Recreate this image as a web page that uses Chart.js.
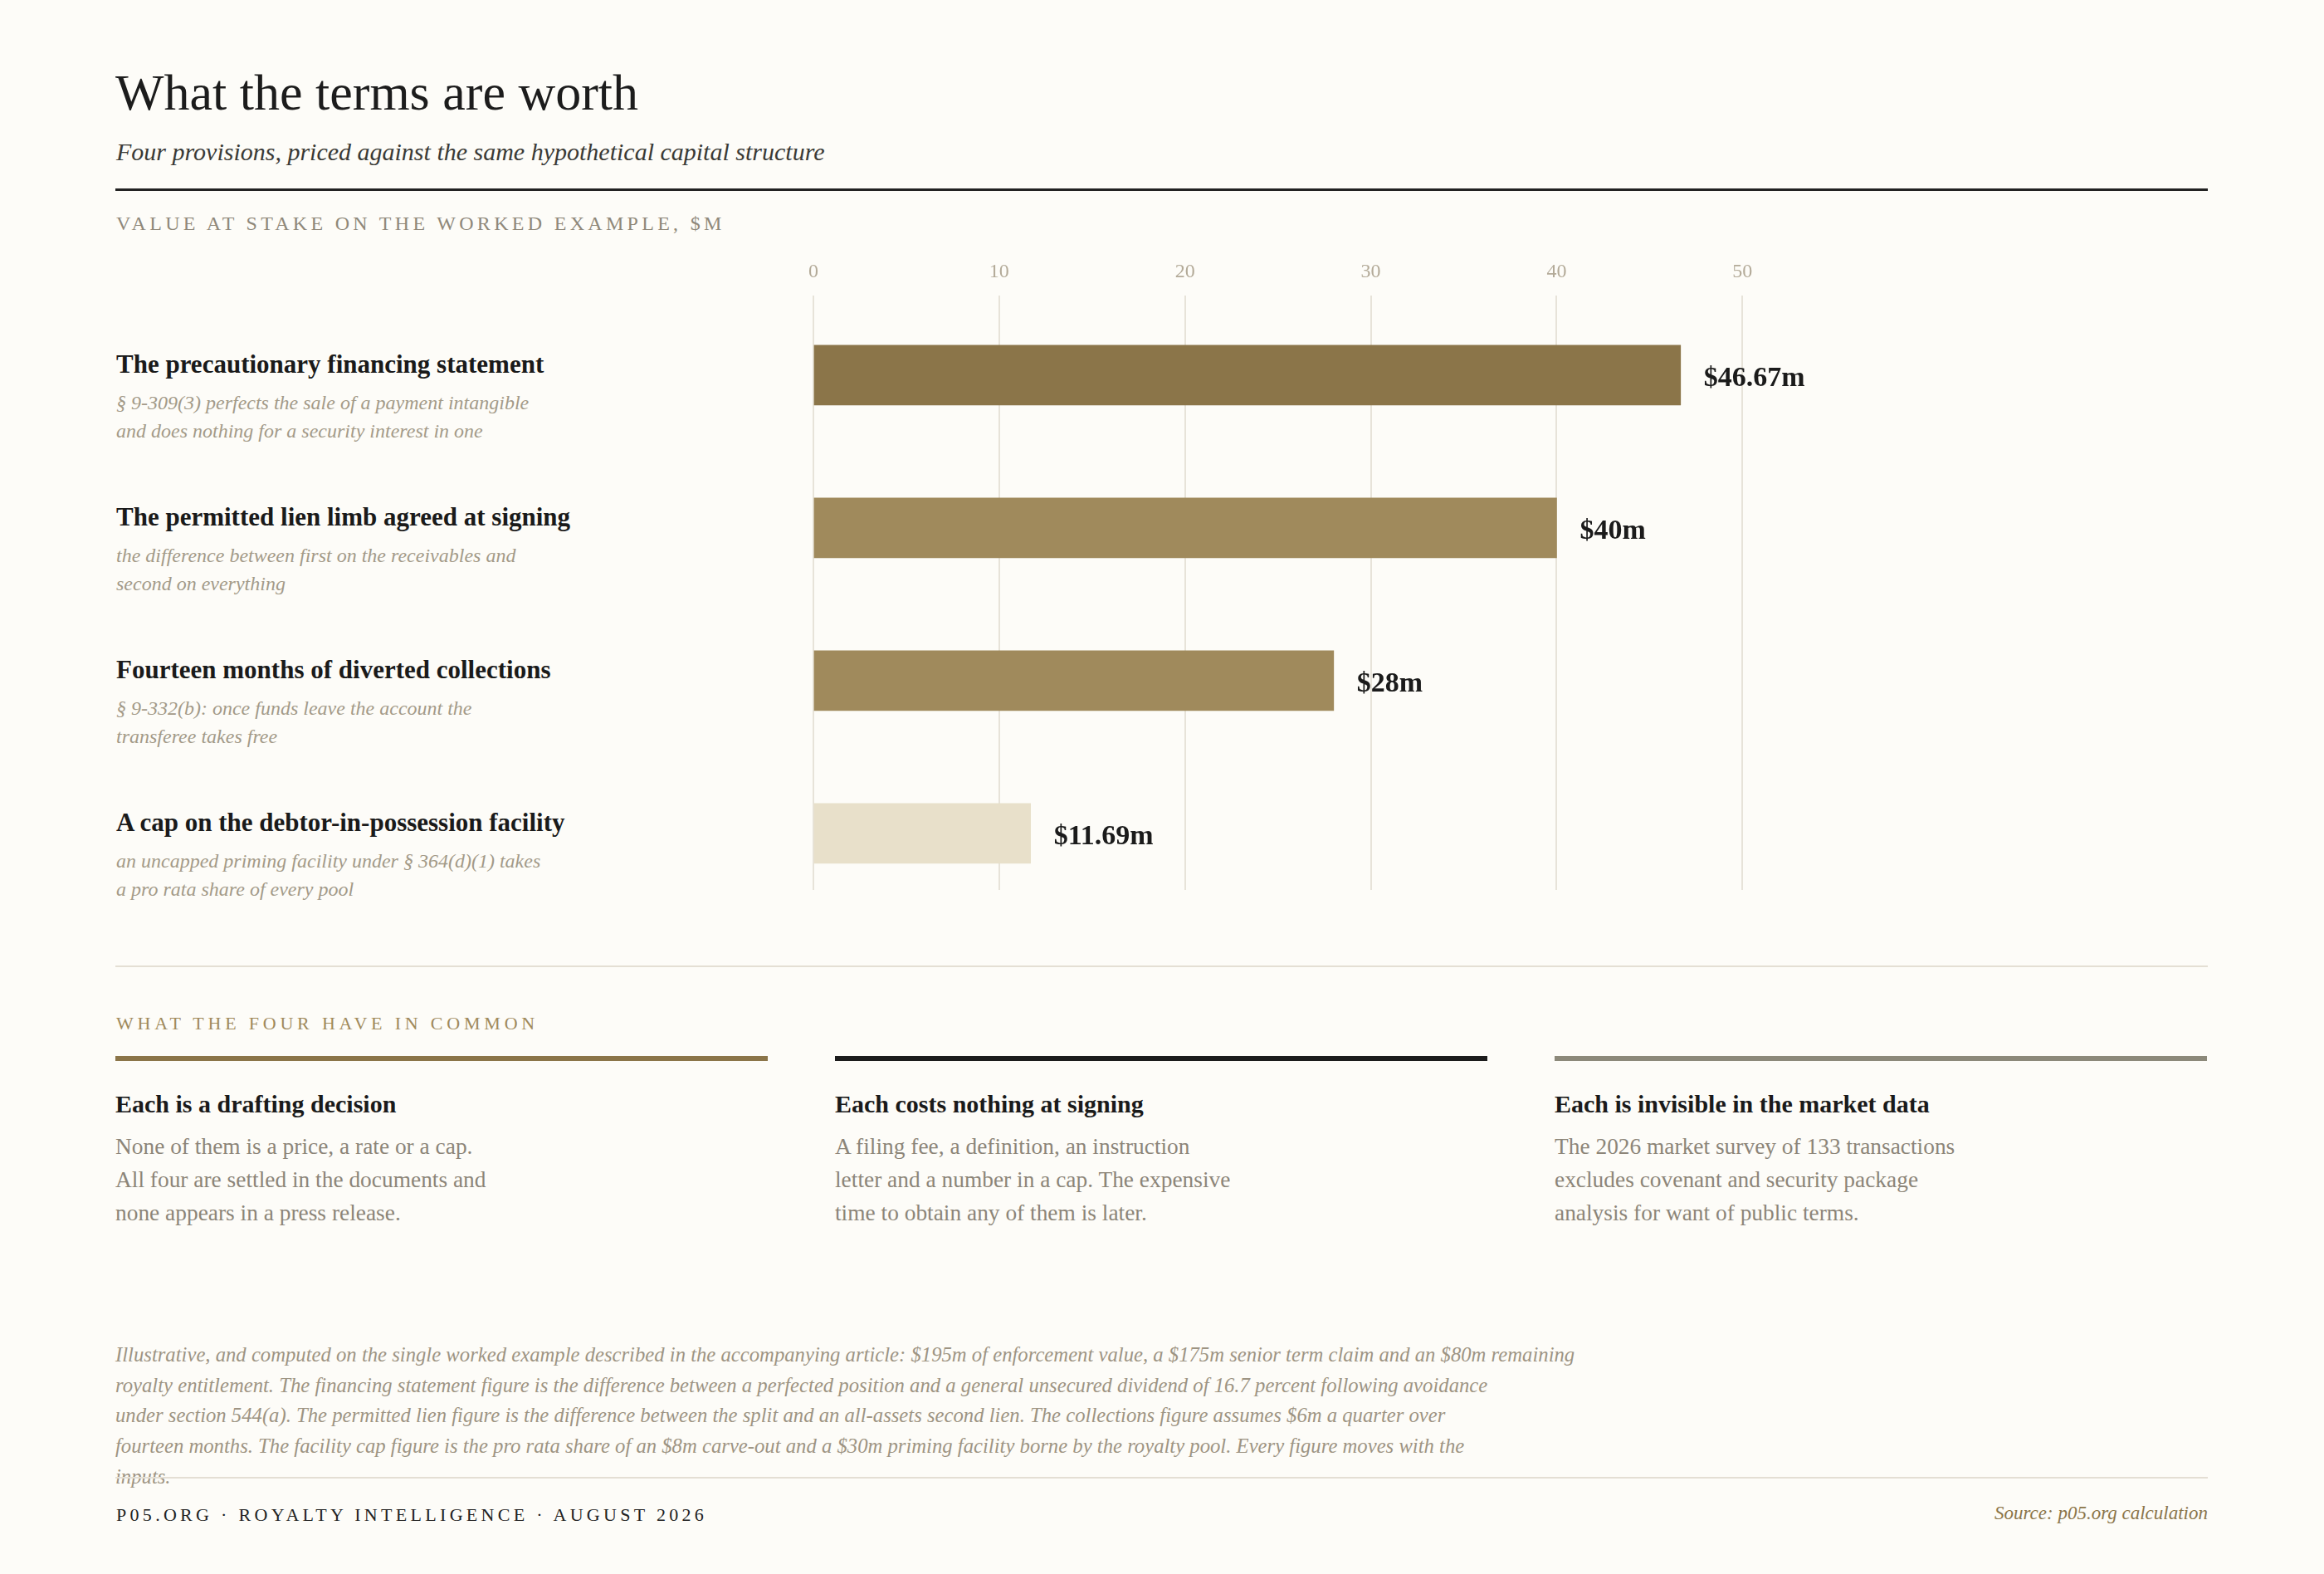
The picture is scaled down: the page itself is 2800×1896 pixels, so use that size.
<!DOCTYPE html>
<html>
<head>
<meta charset="utf-8">
<script src="https://cdn.jsdelivr.net/npm/chart.js@4/dist/chart.umd.min.js"></script>
<style>
  html, body { margin: 0; padding: 0; }
  body {
    width: 2800px; height: 1896px; position: relative; overflow: hidden;
    background: #fdfcf8; color: #1c1c1c;
    font-family: "Liberation Serif", "DejaVu Serif", serif;
  }
  .abs { position: absolute; white-space: nowrap; }
  .title { left: 139px; top: 80px; font-size: 62px; line-height: 62px; }
  .subtitle { left: 140px; top: 168px; font-size: 30px; line-height: 29px; font-style: italic; color: #3a3a36; }
  .rule-dark { left: 139px; top: 227px; width: 2521px; height: 3px; background: #222; }
  .kicker { font-size: 24px; line-height: 24px; letter-spacing: 4.3px; color: #8f887a; }
  .row { left: 140px; }
  .row .t { font-size: 31px; line-height: 31px; font-weight: bold; color: #1a1a1a; }
  .row .s { margin-top: 14px; font-size: 24px; line-height: 34px; font-style: italic; color: #a39a88; }
  .rule-light { left: 139px; width: 2521px; height: 2px; background: #e4dfd4; }
  .col { top: 1272px; width: 786px; }
  .col .bar { height: 6px; }
  .col .h { margin-top: 37px; font-size: 30px; line-height: 30px; font-weight: bold; color: #1a1a1a; }
  .col .b { margin-top: 16px; font-size: 27.4px; line-height: 40px; color: #8c8578; }
  .foot { left: 139px; top: 1614px; font-size: 24.7px; line-height: 36.7px; font-style: italic; color: #9d9483; }
  .footer { left: 140px; top: 1814px; font-size: 22px; line-height: 22px; letter-spacing: 4.3px; color: #222; }
  .source { right: 140px; top: 1811px; font-size: 23px; line-height: 23px; font-style: italic; color: #8b7549; }
  #chartBox { position: absolute; left: 900px; top: 280px; width: 1800px; height: 820px; }
</style>
</head>
<body>

<div class="abs title">What the terms are worth</div>
<div class="abs subtitle">Four provisions, priced against the same hypothetical capital structure</div>
<div class="abs rule-dark"></div>
<div class="abs kicker" style="left:140px; top:257px;">VALUE AT STAKE ON THE WORKED EXAMPLE, $M</div>

<div id="rows"></div>

<div id="chartBox"><canvas id="chart" width="1800" height="820"></canvas></div>

<div class="abs rule-light" style="top:1163px;"></div>
<div class="abs kicker" style="left:140px; top:1222px; font-size:22px; line-height:22px; letter-spacing:4.8px; color:#a08a5c;">WHAT THE FOUR HAVE IN COMMON</div>

<div class="abs col" style="left:139px;">
  <div class="bar" style="background:#8b7549;"></div>
  <div class="h">Each is a drafting decision</div>
  <div class="b">None of them is a price, a rate or a cap.<br>All four are settled in the documents and<br>none appears in a press release.</div>
</div>
<div class="abs col" style="left:1006px;">
  <div class="bar" style="background:#1c1c1c;"></div>
  <div class="h">Each costs nothing at signing</div>
  <div class="b">A filing fee, a definition, an instruction<br>letter and a number in a cap. The expensive<br>time to obtain any of them is later.</div>
</div>
<div class="abs col" style="left:1873px;">
  <div class="bar" style="background:#8c897a;"></div>
  <div class="h">Each is invisible in the market data</div>
  <div class="b">The 2026 market survey of 133 transactions<br>excludes covenant and security package<br>analysis for want of public terms.</div>
</div>

<div class="abs foot">Illustrative, and computed on the single worked example described in the accompanying article: $195m of enforcement value, a $175m senior term claim and an $80m remaining<br>royalty entitlement. The financing statement figure is the difference between a perfected position and a general unsecured dividend of 16.7 percent following avoidance<br>under section 544(a). The permitted lien figure is the difference between the split and an all-assets second lien. The collections figure assumes $6m a quarter over<br>fourteen months. The facility cap figure is the pro rata share of an $8m carve-out and a $30m priming facility borne by the royalty pool. Every figure moves with the<br>inputs.</div>

<div class="abs rule-light" style="top:1779px;"></div>
<div class="abs footer">P05.ORG · ROYALTY INTELLIGENCE · AUGUST 2026</div>
<div class="abs source">Source: p05.org calculation</div>

<script>
// data
const categories = [
  "The precautionary financing statement",
  "The permitted lien limb agreed at signing",
  "Fourteen months of diverted collections",
  "A cap on the debtor-in-possession facility"
];
const notes = [
  ["§ 9-309(3) perfects the sale of a payment intangible", "and does nothing for a security interest in one"],
  ["the difference between first on the receivables and", "second on everything"],
  ["§ 9-332(b): once funds leave the account the", "transferee takes free"],
  ["an uncapped priming facility under § 364(d)(1) takes", "a pro rata share of every pool"]
];
const values = [46.67, 40, 28, 11.69];
const tickValues = [0, 10, 20, 30, 40, 50];

// styles
const barColors = ["#8b7549", "#a08a5c", "#a08a5c", "#e8e0ca"];
const rowTop = 423;
const rowStep = 184;

// left hand labels, one block per bar
const rowsEl = document.getElementById("rows");
categories.forEach((c, i) => {
  const d = document.createElement("div");
  d.className = "abs row";
  d.style.top = (rowTop + i * rowStep) + "px";
  d.innerHTML = '<div class="t"></div><div class="s"></div>';
  d.querySelector(".t").textContent = c;
  d.querySelector(".s").innerHTML = notes[i].map(s => s.replace(/&/g, "&amp;").replace(/</g, "&lt;")).join("<br>");
  rowsEl.appendChild(d);
});

// "$xx m" labels at the end of each bar
const valueLabels = {
  id: "valueLabels",
  afterDatasetsDraw(chart) {
    const ctx = chart.ctx;
    const meta = chart.getDatasetMeta(0);
    ctx.save();
    ctx.font = 'bold 34px "Liberation Serif"';
    ctx.fillStyle = "#1b1b1b";
    ctx.textBaseline = "alphabetic";
    meta.data.forEach((bar, i) => {
      ctx.fillText("$" + values[i] + "m", bar.x + 28, bar.y + 13);
    });
    ctx.restore();
  }
};

new Chart(document.getElementById("chart").getContext("2d"), {
  type: "bar",
  data: {
    datasets: [{
      data: values.map((v, i) => ({ x: v, y: i })),
      backgroundColor: barColors,
      borderWidth: 0,
      barThickness: 72
    }]
  },
  options: {
    indexAxis: "y",
    responsive: false,
    animation: false,
    layout: { padding: { left: 80, right: 41, top: 19, bottom: 28 } },
    plugins: { legend: { display: false }, tooltip: { enabled: false } },
    scales: {
      x: {
        type: "linear",
        position: "top",
        min: 0,
        max: 75,
        afterBuildTicks: s => { s.ticks = tickValues.map(v => ({ value: v })); },
        grid: { color: "#e7e3d9", lineWidth: 2, drawTicks: false },
        border: { display: false },
        ticks: {
          padding: 14,
          color: "#b3aa98",
          font: { family: "Liberation Serif", size: 24 }
        }
      },
      y: {
        type: "linear",
        reverse: true,
        offset: false,
        min: -0.522,
        max: 3.37,
        display: false
      }
    }
  },
  plugins: [valueLabels]
});
</script>
</body>
</html>
